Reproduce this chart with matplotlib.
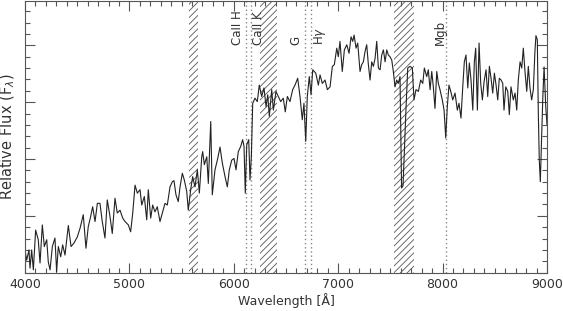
import matplotlib
matplotlib.use('Agg')
import matplotlib.pyplot as plt
from matplotlib.ticker import MultipleLocator, NullFormatter

# spectrum: wavelength (A) and relative flux
wave = [4000, 4016, 4038, 4048, 4064, 4080, 4102, 4127, 4144, 4166, 4185, 4208, 4223, 4240,
        4262, 4287, 4303, 4319, 4342, 4361, 4383, 4415, 4441, 4469, 4501, 4527, 4558, 4584,
        4606, 4629, 4648, 4671, 4693, 4718, 4740, 4766, 4788, 4814, 4836, 4862, 4884, 4910,
        4936, 4958, 4990, 5012, 5032, 5054, 5076, 5102, 5118, 5143, 5166, 5181, 5204, 5223,
        5245, 5267, 5293, 5315, 5341, 5363, 5389, 5411, 5427, 5446, 5468, 5485, 5507, 5526,
        5549, 5564, 5587, 5606, 5628, 5651, 5670, 5693, 5702, 5718, 5741, 5756, 5779, 5794,
        5820, 5846, 5868, 5890, 5916, 5938, 5957, 5980, 6002, 6021, 6043, 6066, 6085, 6098,
        6110, 6124, 6143, 6155, 6168, 6181, 6203, 6225, 6244, 6267, 6289, 6309, 6325, 6340,
        6363, 6379, 6404, 6426, 6449, 6474, 6493, 6513, 6538, 6564, 6586, 6612, 6634, 6656,
        6672, 6689, 6704, 6723, 6740, 6756, 6785, 6810, 6826, 6848, 6874, 6896, 6922, 6944,
        6963, 6986, 7001, 7017, 7039, 7059, 7082, 7104, 7123, 7139, 7152, 7171, 7187, 7209,
        7225, 7241, 7257, 7273, 7289, 7305, 7321, 7337, 7353, 7369, 7385, 7401, 7417, 7433,
        7449, 7465, 7480, 7496, 7513, 7528, 7544, 7560, 7576, 7592, 7607, 7621, 7650, 7666,
        7688, 7710, 7726, 7745, 7768, 7790, 7810, 7825, 7848, 7863, 7880, 7896, 7911, 7927,
        7944, 7959, 7975, 7997, 8014, 8030, 8045, 8061, 8078, 8097, 8119, 8141, 8157, 8176,
        8193, 8208, 8224, 8241, 8256, 8272, 8289, 8304, 8317, 8333, 8349, 8365, 8381, 8397,
        8416, 8432, 8448, 8464, 8480, 8496, 8512, 8528, 8543, 8560, 8576, 8588, 8605, 8624,
        8639, 8655, 8677, 8694, 8710, 8725, 8742, 8758, 8773, 8789, 8806, 8821, 8837, 8853,
        8869, 8885, 8894, 8907, 8917, 8926, 8936, 8959, 8972, 8988, 9000]
flux = [0.40, 0.22, 0.40, 0.08, 0.40, 0.05, 0.75, 0.58, 0.17, 0.84, 0.46, 0.58, 0.19, 0.05,
        0.46, 0.61, 0.02, 0.46, 0.28, 0.49, 0.31, 0.83, 0.46, 0.52, 0.63, 0.78, 1.02, 0.43,
        0.81, 0.99, 1.16, 0.90, 1.22, 1.22, 0.90, 0.61, 1.28, 0.99, 0.69, 1.31, 1.05, 1.10,
        0.96, 0.90, 0.84, 0.72, 1.05, 1.54, 1.40, 1.46, 1.19, 1.34, 0.93, 1.46, 0.96, 1.19,
        1.07, 1.16, 0.90, 1.05, 1.22, 1.19, 1.51, 1.60, 1.62, 1.37, 1.25, 1.51, 1.75, 1.63,
        1.43, 1.10, 1.46, 1.69, 1.51, 1.81, 1.40, 2.04, 2.13, 1.90, 2.04, 1.57, 2.66, 1.37,
        1.81, 2.01, 2.21, 1.93, 1.69, 1.51, 1.81, 1.98, 2.01, 1.81, 2.13, 2.22, 2.34, 2.22,
        1.40, 2.25, 2.34, 1.63, 2.04, 2.98, 3.07, 3.01, 3.30, 3.10, 3.25, 2.92, 3.13, 2.75,
        3.22, 2.86, 3.19, 3.10, 3.01, 3.07, 2.83, 3.10, 3.01, 3.22, 3.30, 3.42, 3.10, 2.69,
        2.98, 2.31, 3.10, 3.45, 3.13, 3.57, 3.51, 3.30, 3.48, 3.33, 3.39, 3.22, 3.27, 3.63,
        3.66, 3.95, 3.80, 4.07, 3.54, 3.92, 4.01, 3.86, 4.15, 4.07, 4.18, 3.95, 4.04, 3.54,
        3.66, 3.71, 3.89, 4.01, 3.66, 3.39, 3.71, 3.63, 3.77, 4.07, 3.60, 3.57, 3.83, 3.92,
        3.71, 3.92, 3.83, 3.80, 3.74, 3.54, 3.27, 3.39, 3.33, 3.45, 1.49, 1.53, 2.92, 3.60,
        3.63, 3.60, 3.04, 3.22, 3.19, 3.39, 3.33, 3.60, 3.45, 3.57, 3.22, 3.54, 3.27, 2.89,
        3.54, 3.33, 3.22, 3.04, 2.86, 2.37, 2.92, 3.30, 3.19, 3.04, 3.16, 2.86, 2.98, 2.72,
        3.27, 3.71, 3.83, 3.25, 3.69, 3.39, 2.86, 3.71, 3.95, 2.86, 4.04, 3.33, 3.04, 3.36,
        3.57, 3.10, 3.63, 3.42, 3.16, 3.51, 3.30, 3.04, 3.42, 3.39, 3.33, 2.86, 3.27, 3.19,
        2.78, 3.27, 3.04, 3.16, 2.86, 3.39, 3.71, 3.60, 3.95, 3.54, 3.19, 3.63, 3.25, 3.04,
        3.22, 3.92, 4.17, 4.10, 2.78, 1.98, 1.60, 3.04, 3.62, 2.92, 2.60]

# telluric / masked regions (hatched)
bands = [(5570, 5660), (6255, 6410), (7530, 7730)]

# absorption features; label_offset = shift (A) of the label's near edge from the line
line_names = ['CaII H', 'CaII K', 'G', 'H$\\gamma$', 'Mgb']
line_waves = [6114, 6162, 6682, 6739, 8030]
label_offset = [-15, 8, -25, 8, 12]
label_align = ['right', 'left', 'right', 'left', 'right']

plt.rcParams['font.family'] = ['DejaVu Sans']
plt.rcParams['hatch.linewidth'] = 0.6
plt.rcParams['hatch.color'] = '#555555'

fig = plt.figure(figsize=(5.63, 3.11), dpi=100)
ax = fig.add_axes([0.0444, 0.1232, 0.9272, 0.8736])

for lo, hi in bands:
    ax.axvspan(lo, hi, facecolor='none', edgecolor='#555555', hatch='/////', lw=0)

for w in line_waves:
    ax.axvline(w, color='#888888', ls=(0, (1, 2)), lw=1.0)
for name, w, off, al in zip(line_names, line_waves, label_offset, label_align):
    ax.text(w + off, 4.0, name, rotation=90, ha=al, va='bottom', fontsize=8.5, color='#333333')

ax.plot(wave, flux, color='#222222', lw=0.8)

ax.set_xlim(4000, 9000)
ax.set_ylim(0, 4.78)
ax.xaxis.set_major_locator(MultipleLocator(1000))
ax.xaxis.set_minor_locator(MultipleLocator(100))
ax.yaxis.set_major_locator(MultipleLocator(1))
ax.yaxis.set_minor_locator(MultipleLocator(0.2))
ax.yaxis.set_major_formatter(NullFormatter())
ax.tick_params(which='both', direction='in', top=True, right=True, colors='#555555',
               labelcolor='#333333', labelsize=9)
ax.tick_params(which='major', length=7, width=0.8)
ax.tick_params(which='minor', length=3.5, width=0.8)
for s in ax.spines.values():
    s.set_color('#555555')
    s.set_linewidth(0.8)

ax.set_xlabel('Wavelength [Å]', fontsize=9, color='#333333', labelpad=2)
ax.text(-0.0326, 0.5, 'Relative Flux (F$_\\lambda$)', transform=ax.transAxes, rotation=90,
        ha='center', va='center', fontsize=10.5, color='#333333')

fig.savefig('out.png', dpi=100)
